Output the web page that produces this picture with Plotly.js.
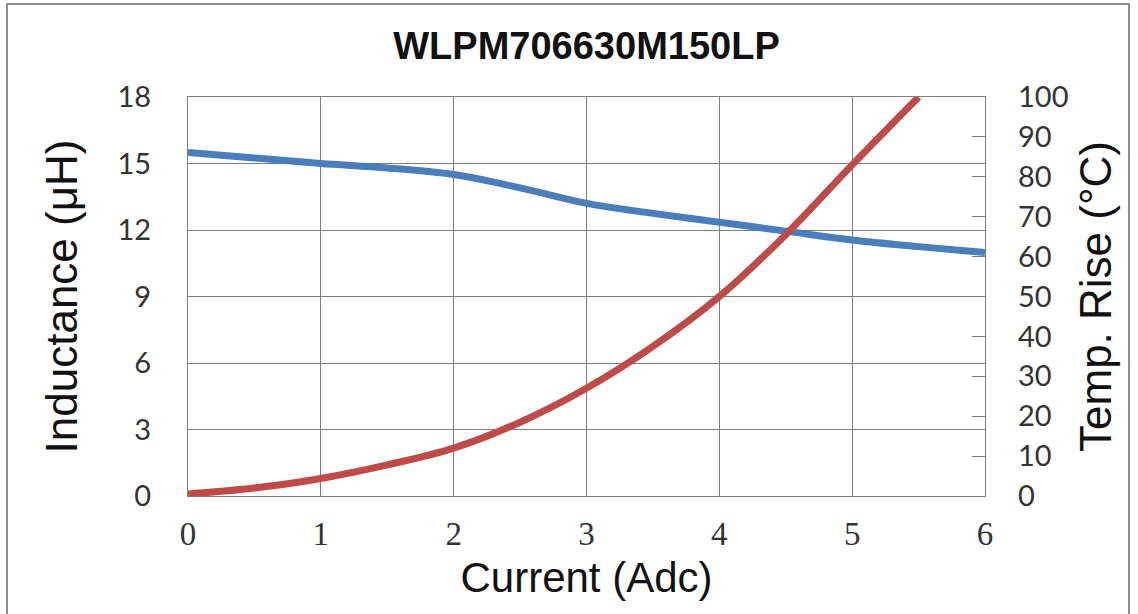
<!DOCTYPE html>
<html>
<head>
<meta charset="utf-8">
<script src="https://cdn.plot.ly/plotly-3.0.1.min.js"></script>
<style>
  html, body { margin: 0; padding: 0; background: #fff; }
  #wrap { position: relative; width: 1138px; height: 614px; overflow: hidden; }
  #chart { width: 1138px; height: 614px; }
  #frame { position: absolute; left: 6px; top: 3px; width: 1124px; height: 640px;
           border: 2px solid #8f8f8f; pointer-events: none; box-sizing: border-box; }
</style>
</head>
<body>
<div id="wrap">
  <div id="chart"></div>
  <div id="frame"></div>
</div>
<script>
// Current (Adc)
const currentL = [0, 0.5, 1, 1.5, 2, 2.5, 3, 3.5, 4, 4.5, 5, 5.5, 6];
// Inductance (uH)
const inductance = [15.5, 15.25, 15.0, 14.8, 14.5, 13.9, 13.2, 12.75, 12.35, 11.95, 11.55, 11.25, 10.98];
// Temperature rise (C)
const currentT = [0, 0.5, 1, 1.5, 2, 2.5, 3, 3.5, 4, 4.5, 5, 5.5];
const tempRise = [0.5, 2, 4.4, 7.8, 12, 18.5, 27, 37.5, 50, 65.5, 83, 100];

const xTicks = [0, 1, 2, 3, 4, 5, 6];
const yTicks = [0, 3, 6, 9, 12, 15, 18];
const y2Ticks = [0, 10, 20, 30, 40, 50, 60, 70, 80, 90, 100];

const gridCol = '#7f7f7f';

const traces = [
  {
    x: currentL, y: inductance, type: 'scatter', mode: 'lines',
    line: { color: '#4a7ebb', width: 7, shape: 'spline' },
    name: 'Inductance', yaxis: 'y', hoverinfo: 'skip'
  },
  {
    x: currentT, y: tempRise, type: 'scatter', mode: 'lines',
    line: { color: '#be4b48', width: 7, shape: 'spline' },
    name: 'Temp. Rise', yaxis: 'y2', hoverinfo: 'skip'
  }
];

const layout = {
  width: 1138, height: 614,
  margin: { l: 188, r: 153, t: 97, b: 118 },
  paper_bgcolor: '#ffffff', plot_bgcolor: '#ffffff',
  showlegend: false,
  title: {
    text: '<b>WLPM706630M150LP</b>',
    font: { family: 'Liberation Sans, Arial, sans-serif', size: 38, color: '#111' },
    xref: 'paper', x: 0.5, xanchor: 'center',
    yref: 'container', y: 0.925, yanchor: 'middle'
  },
  xaxis: {
    range: [0, 6], tickvals: xTicks, ticktext: xTicks.map(String),
    showgrid: true, gridcolor: gridCol, gridwidth: 1,
    zeroline: false, showline: true, linecolor: gridCol, linewidth: 1, mirror: true,
    ticks: '', ticklabelstandoff: 8,
    tickfont: { family: 'Liberation Serif, Times New Roman, serif', size: 33, color: '#333' },
    title: { text: 'Current (Adc)', standoff: 12,
      font: { family: 'Liberation Sans, Arial, sans-serif', size: 42, color: '#111' } }
  },
  yaxis: {
    range: [0, 18], tickvals: yTicks, ticktext: yTicks.map(String),
    showgrid: true, gridcolor: gridCol, gridwidth: 1,
    zeroline: false, showline: true, linecolor: gridCol, linewidth: 1, mirror: true,
    ticks: '', ticklabelstandoff: 30,
    tickfont: { family: 'Lato, Carlito, sans-serif', size: 29, color: '#333' },
    title: { text: 'Inductance (μH)', standoff: 26,
      font: { family: 'Liberation Sans, Arial, sans-serif', size: 44, color: '#111' } }
  },
  yaxis2: {
    range: [0, 100], tickvals: y2Ticks, ticktext: y2Ticks.map(String),
    overlaying: 'y', side: 'right', anchor: 'x',
    showgrid: false, zeroline: false, showline: false,
    ticks: 'inside', ticklen: 13, tickcolor: gridCol, tickwidth: 1,
    ticklabelstandoff: 32,
    tickfont: { family: 'Lato, Carlito, sans-serif', size: 29, color: '#333' },
    title: { text: 'Temp. Rise (°C)', standoff: 12,
      font: { family: 'Liberation Sans, Arial, sans-serif', size: 44, color: '#111' } }
  }
};

Plotly.newPlot('chart', traces, layout, { displayModeBar: false, staticPlot: true });
</script>
</body>
</html>
